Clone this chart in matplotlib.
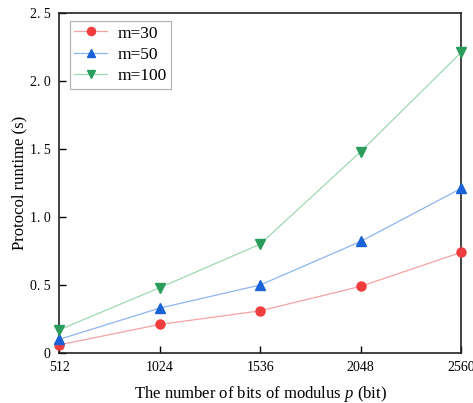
import matplotlib.pyplot as plt

bits = [512, 1024, 1536, 2048, 2560]
m30 = [0.06, 0.21, 0.31, 0.49, 0.74]
m50 = [0.10, 0.33, 0.50, 0.82, 1.21]
m100 = [0.17, 0.48, 0.80, 1.48, 2.21]

yticks = [0, 0.5, 1.0, 1.5, 2.0, 2.5]
ytick_labels = ['0', '0. 5', '1. 0', '1. 5', '2. 0', '2. 5']

plt.rcParams['font.family'] = ['Liberation Serif', 'DejaVu Serif']
plt.rcParams['mathtext.fontset'] = 'custom'
plt.rcParams['mathtext.it'] = 'Liberation Serif:italic'

fig = plt.figure(figsize=(4.73, 4.03), dpi=100)
ax = fig.add_axes([0.125, 0.124, 0.85, 0.844])

series = [
    (m30, 'm=30', 'o', '#f03c3c', '#f5a3a3', 6.5),
    (m50, 'm=50', '^', '#1a62d8', '#8db5ee', 7),
    (m100, 'm=100', 'v', '#2a9d5c', '#9fd9b2', 7),
]
for vals, lab, mk, mc, lc, ms in series:
    ax.plot(bits, vals, color=lc, lw=0.9, marker=mk, markersize=ms,
            markerfacecolor=mc, markeredgecolor=mc, label=lab, clip_on=False, zorder=3)

ax.set_xlim(512, 2560)
ax.set_ylim(0, 2.5)
ax.set_xticks(bits)
ax.set_yticks(yticks)
ax.set_yticklabels(ytick_labels)
ax.tick_params(direction='in', length=5, width=1, labelsize=10, pad=6)
for s in ax.spines.values():
    s.set_linewidth(1.2)
    s.set_color('#222222')

ax.set_xlabel('The number of bits of modulus $p$ (bit)', fontsize=12, labelpad=7)
ax.set_ylabel('Protocol runtime (s)', fontsize=12, labelpad=2)

# legend box sits just inside the top-left corner
leg = ax.legend(loc='upper left', fontsize=12.5, fancybox=False, framealpha=1,
                edgecolor='#b0b0b0', handlelength=1.9, handletextpad=0.6,
                borderpad=0.25, labelspacing=0.3, borderaxespad=0,
                bbox_to_anchor=(0.027, 0.976), markerscale=0.9)
leg.get_frame().set_linewidth(0.8)

plt.savefig('out.png', dpi=100)
